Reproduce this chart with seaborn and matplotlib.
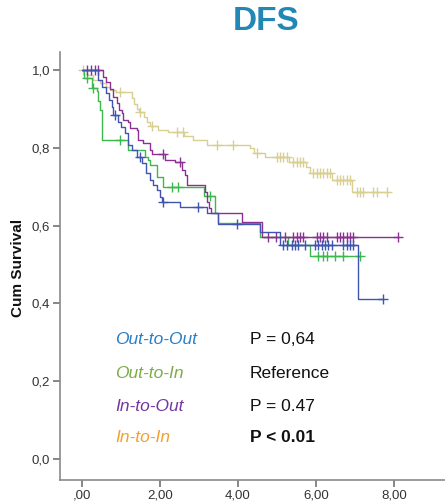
import numpy as np
import pandas as pd
import matplotlib
matplotlib.use("Agg")
import matplotlib.pyplot as plt
import seaborn as sns

# Kaplan-Meier step estimates (event time, survival after the event) per group
groups = ["Out-to-Out", "Out-to-In", "In-to-Out", "In-to-In"]

oo_times = [0.40, 0.52, 0.62, 0.68, 0.76, 0.80, 0.92, 1.00, 1.10, 1.18, 1.28, 1.40,
            1.55, 1.65, 1.74, 1.82, 1.92, 2.00, 2.05, 2.52, 3.21, 3.49, 4.56, 5.08, 7.08]
oo_surv = [0.974, 0.956, 0.941, 0.923, 0.905, 0.884, 0.866, 0.853, 0.838, 0.807, 0.794, 0.776,
           0.761, 0.735, 0.717, 0.704, 0.692, 0.674, 0.661, 0.648, 0.632, 0.604, 0.584, 0.550, 0.411]
oo_cens = [0.85, 1.49, 2.08, 2.98, 3.97, 5.15, 5.26, 5.38, 5.46, 5.54, 5.72, 5.97, 6.05,
           6.15, 6.23, 6.31, 6.41, 6.69, 6.79, 6.87, 6.95, 7.72]

oi_times = [0.05, 0.26, 0.38, 0.41, 0.46, 0.51, 1.18, 1.62, 1.69, 1.74, 1.92, 2.08,
            3.13, 3.41, 3.49, 4.56, 5.28, 5.85]
oi_surv = [0.979, 0.954, 0.946, 0.920, 0.897, 0.820, 0.794, 0.776, 0.769, 0.756, 0.725, 0.700,
           0.675, 0.632, 0.607, 0.571, 0.550, 0.522]
oi_cens = [0.13, 0.28, 0.97, 2.31, 2.46, 3.28, 6.05, 6.18, 6.28, 6.49, 6.69, 7.13]

io_times = [0.54, 0.62, 0.72, 0.80, 0.90, 0.95, 1.03, 1.05, 1.18, 1.23, 1.41, 1.44,
            1.56, 1.74, 1.80, 2.13, 2.38, 2.56, 2.64, 2.69, 3.15, 3.21, 3.26, 3.31,
            4.10, 4.62]
io_surv = [0.982, 0.970, 0.950, 0.930, 0.915, 0.897, 0.889, 0.871, 0.866, 0.850, 0.846, 0.820,
           0.812, 0.794, 0.783, 0.769, 0.764, 0.743, 0.730, 0.705, 0.685, 0.660, 0.645, 0.632,
           0.609, 0.571]
io_cens = [0.13, 0.23, 0.33, 0.41, 2.08, 2.51, 4.77, 4.97, 5.21, 5.41, 5.51, 5.59, 5.67,
           6.03, 6.10, 6.18, 6.28, 6.54, 6.62, 6.69, 6.79, 6.87, 6.95, 8.10]

ii_times = [0.12, 0.28, 0.46, 0.62, 0.72, 0.88, 1.28, 1.33, 1.40, 1.47, 1.60, 1.67,
            1.75, 1.95, 2.20, 2.62, 2.85, 3.20, 4.30, 4.42, 4.70, 5.30, 5.75, 5.85,
            6.42, 6.93]
ii_surv = [0.987, 0.974, 0.967, 0.956, 0.949, 0.943, 0.928, 0.913, 0.900, 0.892, 0.879, 0.867,
           0.856, 0.846, 0.840, 0.830, 0.820, 0.807, 0.800, 0.787, 0.776, 0.763, 0.750, 0.735,
           0.717, 0.686]
ii_cens = [0.03, 0.97, 1.49, 1.79, 2.44, 2.59, 3.46, 3.87, 4.49, 5.00, 5.08, 5.15, 5.26,
           5.41, 5.51, 5.59, 5.67, 5.92, 6.03, 6.10, 6.18, 6.28, 6.36, 6.54, 6.62, 6.69,
           6.79, 6.87, 7.05, 7.13, 7.21, 7.46, 7.56, 7.82]

p_labels = ["P = 0,64", "Reference", "P = 0.47", "P < 0.01"]

line_colors = {"Out-to-Out": "#3f55b0", "Out-to-In": "#3cb84c",
               "In-to-Out": "#8a3192", "In-to-In": "#d8cf93"}
text_colors = ["#2a7fc6", "#7aae45", "#7236a0", "#f0a030"]

curves = {"Out-to-Out": (oo_times, oo_surv, oo_cens),
          "Out-to-In": (oi_times, oi_surv, oi_cens),
          "In-to-Out": (io_times, io_surv, io_cens),
          "In-to-In": (ii_times, ii_surv, ii_cens)}


def step_value(times, surv, t):
    idx = np.searchsorted(np.asarray(times), t, side="right") - 1
    return 1.0 if idx < 0 else surv[idx]


line_rows, cens_rows = [], []
for g, (tt, ss, cc) in curves.items():
    end = max(max(cc), max(tt))
    xs = [0.0] + list(tt) + [end]
    ys = [1.0] + list(ss) + [ss[-1]]
    for x, y in zip(xs, ys):
        line_rows.append({"group": g, "time": x, "surv": y})
    for c in cc:
        cens_rows.append({"group": g, "time": c, "surv": step_value(tt, ss, c)})

lines = pd.DataFrame(line_rows)
cens = pd.DataFrame(cens_rows)

sns.set_theme(style="white")
plt.rcParams["font.family"] = ["Liberation Sans", "DejaVu Sans"]

fig = plt.figure(figsize=(4.45, 5.04), dpi=100)
ax = fig.add_axes([60 / 445, 24 / 504, 385 / 445, 428 / 504])

draw_order = ["In-to-In", "Out-to-In", "In-to-Out", "Out-to-Out"]
for g in draw_order:
    sub = lines[lines["group"] == g]
    sns.lineplot(data=sub, x="time", y="surv", color=line_colors[g], ax=ax,
                 drawstyle="steps-post", estimator=None, sort=False,
                 linewidth=1.0, legend=False)
    csub = cens[cens["group"] == g]
    ax.plot(csub["time"], csub["surv"], linestyle="none", marker="+",
            markersize=6.5, markeredgewidth=1.0, color=line_colors[g])

ax.set_xlim(-0.564, 9.31)
ax.set_ylim(-0.054, 1.046)
ax.set_xticks([0, 2, 4, 6, 8])
ax.set_xticklabels([",00", "2,00", "4,00", "6,00", "8,00"])
ax.set_yticks([0, 0.2, 0.4, 0.6, 0.8, 1.0])
ax.set_yticklabels(["0,0", "0,2", "0,4", "0,6", "0,8", "1,0"])
ax.set_xlabel("")
ax.set_ylabel("")

for side in ["top", "right"]:
    ax.spines[side].set_visible(False)
for side in ["left", "bottom"]:
    ax.spines[side].set_color("#8a8a8a")
    ax.spines[side].set_linewidth(1.2)
ax.tick_params(axis="both", direction="out", length=5, width=1.1, color="#666666",
               labelsize=9.5, labelcolor="#333333", pad=2)
ax.tick_params(axis="x", bottom=True)
ax.tick_params(axis="y", left=True)

fig.text(18 / 445, 1 - 268 / 504, "Cum Survival", rotation=90, ha="center", va="center",
         fontsize=11, fontweight="bold", color="#111111")
fig.text(266 / 445, 1 - 22 / 504, "DFS", ha="center", va="center",
         fontsize=24, fontweight="bold", color="#2287b5")

row_y = [0.306, 0.221, 0.136, 0.054]
for i, g in enumerate(groups):
    ax.text(0.846, row_y[i], g, color=text_colors[i], fontsize=12.5, style="italic",
            ha="left", va="center")
    ax.text(4.31, row_y[i], p_labels[i], color="#111111", fontsize=12.5,
            fontweight="bold" if i == 3 else "normal", ha="left", va="center")

fig.savefig("out.png", dpi=100)
